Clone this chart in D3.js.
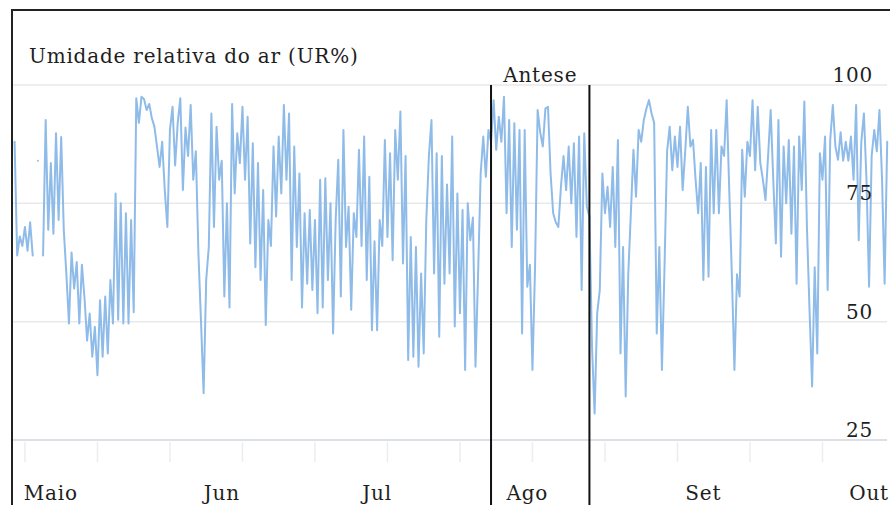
<!DOCTYPE html>
<html>
<head>
<meta charset="utf-8">
<script src="https://cdn.jsdelivr.net/npm/d3@7"></script>
<style>
    body { margin: 0; background: #fff; }
    svg { display: block; }
</style>
</head>
<body>
<div id="container"></div>
<script>
// Relative humidity (UR%), two readings per day (00h and 12h)
const abrRH = [88, 64, 68, 66];   // from 29 Apr
const maiRH = [70, 65, 71, 64, null, 84, null, 64, 92.6, 69.4, 83.5, 68.6, 89.8, 71.5, 89, 69.4,
    60, 49.6, 64.6, 57, 62.6, 49.6, 62, 55, 46, 51.7, 42.6, 48.9, 38.7, 54.5, 42.6, 55.3,
    43.3, 58.8, 49.6, 77.1, 50.4, 75, 49.6, 72.9, 49.6, 71.5, 52, 97.2, 92, 97.5, 97, 94.7,
    96, 93, 91.2, 87, 82.7, 88, 77.8, 70, 90.5, 95.4, 83, 92, 97.2, 77.8];
const junRH = [91, 85, 95.8, 80, 86, 64.4, 50, 34.9, 58.8, 65.8, 94, 70, 91.2, 80, 84, 55.3,
    75, 53, 96, 77.1, 89.8, 83.5, 95.4, 80, 93.3, 66.5, 87.7, 61.5, 83.5, 58.8, 77.8, 49.3,
    71.5, 66, 87, 72.2, 89.1, 77.1, 95.8, 80, 94, 58.8, 87, 65.8, 81.3, 53, 72.9, 58,
    73.6, 56.7, 71.5, 51.8, 80, 53, 80.3, 58.8, 75, 47.5, 71.5, 84.2];
const julRH = [55.3, 90.5, 65.8, 74.3, 52.5, 72.9, 67.9, 86.3, 66, 89.1, 58.8, 80.6, 48.2, 67, 48.2, 71.5,
    66, 88.4, 67.9, 85.6, 63, 90.5, 80, 94.4, 62.3, 85, 41.9, 67.9, 42.6, 65.8, 40.5, 60.2,
    43.3, 71.5, 85, 92.6, 60.2, 85.6, 46.8, 85, 58, 79, 60.2, 89.1, 49, 77.1, 51.8, 73.6,
    39.8, 75, 67.2, 72, 40.5, 60, 81.3, 89.1, 80.6, 90.5, 88, 96.8, 86.3, 93.3];
const agoRH = [88, 97.5, 72.9, 92.6, 65.8, 91.9, 69.4, 90.5, 47.5, 90.5, 57.4, 62, 39.8, 61.5, 94.7, 90,
    87, 95, 95.4, 81.3, 72.9, 71, 70, 78.5, 85, 77.8, 87, 75, 87.7, 67.9, 89.1, 56.7,
    89.8, 74.3, 72.2, 44.7, 30.6, 51.8, 56.7, 81.3, 72.9, 78.5, 70, 82.7, 65.8, 88.4, 43.3, 65.8,
    34.2, 60, 72.9, 86.3, 76.4, 90.5, 88, 92.6, 95, 96.8, 94, 92, 47.5, 65.8];
const setRH = [39.8, 61.5, 86, 91.2, 82, 89.1, 82.7, 91.2, 77.8, 86, 95.4, 87, 88.4, 80, 72.9, 83.5,
    58.8, 82.7, 59.5, 90.5, 72.9, 90.5, 72.9, 87, 85, 96.8, 77.8, 60, 39.8, 60, 55.3, 86.3,
    76.4, 88, 85, 96.8, 82, 95.4, 83.5, 80, 75.7, 85, 94.7, 80, 66.5, 92.6, 63.7, 87,
    75, 88.4, 68.6, 87, 58, 89.1, 77.8, 96.5, 70, 52.5, 36.3, 61.5];
const outRH = [43.3, 85.6, 80, 89.1, 56.7, 88.4, 95.8, 87, 84.2, 90, 84, 88, 84, 89.1,
    80, 95.8, 67.2, 88, 94, 80, 57.4, 85, 90.5, 86, 94.7, 80.3, 58, 88];

const seriesStarts = [
    [Date.UTC(2013, 3, 29), abrRH],
    [Date.UTC(2013, 4, 1), maiRH],
    [Date.UTC(2013, 5, 1), junRH],
    [Date.UTC(2013, 6, 1), julRH],
    [Date.UTC(2013, 7, 1), agoRH],
    [Date.UTC(2013, 8, 1), setRH],
    [Date.UTC(2013, 9, 1), outRH]
];

const monthLabels = ["Maio", "Jun", "Jul", "Ago", "Set", "Out"];
const monthLabelDates = [Date.UTC(2013, 4, 6), Date.UTC(2013, 5, 8), Date.UTC(2013, 6, 8),
    Date.UTC(2013, 7, 6), Date.UTC(2013, 8, 9), Date.UTC(2013, 9, 11)];
const yTicks = [25, 50, 75, 100];
const anteseDates = [Date.UTC(2013, 6, 30), Date.UTC(2013, 7, 18)];

const HALF_DAY = 12 * 3600 * 1000;
const data = seriesStarts.flatMap(([t0, vals]) =>
    vals.map((v, i) => ({ date: new Date(t0 + i * HALF_DAY), v: v })));

const width = 890, height = 505;

// all chart text shares one look
function styleText(sel) {
    return sel
        .style("font-family", "'DejaVu Serif', serif")
        .style("font-size", "20px")
        .style("letter-spacing", "0.8px")
        .style("fill", "#1e1e1e");
}

const svg = d3.select("#container").append("svg")
    .attr("width", width)
    .attr("height", height);

const x = d3.scaleUtc()
    .domain([new Date(Date.UTC(2013, 3, 28, 12)), new Date(Date.UTC(2013, 9, 14, 12))])
    .range([12, 887.2]);

const y = d3.scaleLinear()
    .domain([25, 100])
    .range([440, 85]);

// horizontal gridlines
svg.append("g")
    .selectAll("line")
    .data(yTicks)
    .enter().append("line")
    .attr("x1", 13)
    .attr("x2", 887)
    .attr("y1", d => y(d))
    .attr("y2", d => y(d))
    .attr("stroke", d => d === 25 ? "#dcdfe3" : "#e9e9e9")
    .attr("stroke-width", d => d === 25 ? 2 : 1.5);

// small vertical ticks under the axis, every two weeks
const tickDates = d3.utcDay.range(new Date(Date.UTC(2013, 4, 1)), x.domain()[1], 14);
svg.append("g")
    .selectAll("line")
    .data(tickDates)
    .enter().append("line")
    .attr("x1", d => x(d))
    .attr("x2", d => x(d))
    .attr("y1", 442)
    .attr("y2", 462)
    .attr("stroke", "#ebedf0")
    .attr("stroke-width", 1.5);

// the humidity line
const line = d3.line()
    .defined(d => d.v != null)
    .x(d => x(d.date))
    .y(d => y(d.v));

svg.append("path")
    .datum(data)
    .attr("d", line)
    .attr("fill", "none")
    .attr("stroke", "#8fbbe9")
    .attr("stroke-width", 2)
    .attr("stroke-linejoin", "round")
    .attr("stroke-linecap", "round");

// Antese markers
svg.append("g")
    .selectAll("line")
    .data(anteseDates)
    .enter().append("line")
    .attr("x1", d => x(d))
    .attr("x2", d => x(d))
    .attr("y1", 85)
    .attr("y2", height)
    .attr("stroke", "#111")
    .attr("stroke-width", 2);

svg.append("text")
    .attr("x", (x(anteseDates[0]) + x(anteseDates[1])) / 2)
    .attr("y", 82)
    .attr("text-anchor", "middle")
    .call(styleText)
    .text("Antese");

// y labels, on the right
svg.append("g")
    .selectAll("text")
    .data(yTicks)
    .enter().append("text")
    .attr("x", 873)
    .attr("y", d => y(d) - 3)
    .attr("text-anchor", "end")
    .call(styleText)
    .text(d => d);

// month labels
svg.append("g")
    .selectAll("text")
    .data(monthLabels)
    .enter().append("text")
    .attr("x", (d, i) => x(new Date(monthLabelDates[i])))
    .attr("y", 500)
    .attr("text-anchor", "middle")
    .call(styleText)
    .text(d => d);

// title
svg.append("text")
    .attr("x", 29)
    .attr("y", 63)
    .call(styleText)
    .text("Umidade relativa do ar (UR%)");

// frame (left and top edges visible)
svg.append("rect")
    .attr("x", 12)
    .attr("y", 10)
    .attr("width", width)
    .attr("height", height)
    .attr("fill", "none")
    .attr("stroke", "#222")
    .attr("stroke-width", 2);
</script>
</body>
</html>
